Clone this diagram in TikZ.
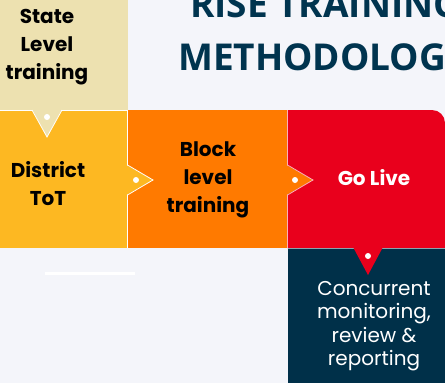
\documentclass[tikz,border=0pt]{standalone}
\usepackage{fontspec}
\setmainfont{Poppins}
\newfontfamily\titlefont{Open Sans}
\definecolor{bgc}{HTML}{F4F5FA}
\definecolor{beigec}{HTML}{EDE1B0}
\definecolor{yellowc}{HTML}{FDB822}
\definecolor{orangec}{HTML}{FF7A00}
\definecolor{redc}{HTML}{E9001C}
\definecolor{darkc}{HTML}{003049}
\definecolor{titlec}{HTML}{00344F}
\begin{document}
\begin{tikzpicture}[x=1pt,y=-1pt,
  lbl/.style={align=center,font=\fontsize{20}{28}\selectfont\bfseries,text=black,inner sep=0pt},
  lbllight/.style={align=center,font=\fontsize{20}{23.5}\selectfont,text=white,inner sep=0pt},
  ttl/.style={anchor=base west,font=\titlefont\bfseries\fontsize{37}{44}\selectfont,text=titlec,inner sep=0pt},
  sep/.style={draw=white,line width=0.8pt},
  dotw/.style={fill=white},
  tri/.style={line width=0.8pt,line join=miter}]
\useasboundingbox (0,0) rectangle (445,383);
\clip (0,0) rectangle (445,383);
\fill[bgc] (0,0) rectangle (445,383);
% boxes
\fill[beigec] (0,0) rectangle (127.5,110);
\fill[yellowc] (0,110) rectangle (127.5,248);
\fill[orangec] (127.5,110) rectangle (287.5,248);
\fill[redc] (287.5,248) -- (287.5,110) -- (432,110) arc[start angle=90,end angle=0,radius=13pt] -- (445,248) -- cycle;
\fill[darkc] (287.5,248) rectangle (445,383);
% separators
\draw[sep] (0,110) -- (127.5,110);
\draw[sep] (127.5,110) -- (127.5,248);
\draw[draw=white!70!redc,line width=0.8pt] (287.5,110) -- (287.5,248);
\draw[draw=white!55!darkc,line width=0.8pt] (287.5,248) -- (445,248);
% pointer triangles
\fill[beigec] (32,109) -- (62,109) -- (47,137) -- cycle;
\draw[tri,white] (32,110) -- (47,137) -- (62,110);
\fill[yellowc] (126.5,165) -- (153,180) -- (126.5,195) -- cycle;
\draw[tri,white] (127.5,165) -- (153,180) -- (127.5,195);
\fill[orangec] (286.5,165) -- (313,180) -- (286.5,195) -- cycle;
\draw[tri,white!70!redc] (287.5,165) -- (313,180) -- (287.5,195);
\fill[redc] (353,247) -- (383,247) -- (368,275) -- cycle;
% dots
\fill[dotw] (47,117) circle[radius=3pt];
\fill[dotw] (136,180) circle[radius=3pt];
\fill[dotw] (295,180) circle[radius=3pt];
\fill[dotw] (368,256) circle[radius=3pt];
% white bar
\draw[white,line width=3pt] (45,273) -- (135,273);
% labels
\node[lbl] (state) at (47,47.5) {State\\Level\\training};
\node[lbl] (district) at (48,183.5) {District\\ToT};
\node[lbl] (block) at (208,180) {Block\\level\\training};
\node[lbl,text=white] (golive) at (374,177.5) {Go Live};
\node[lbllight] (monitor) at (374,326) {Concurrent\\monitoring,\\review \&\\reporting};
% title
\node[ttl] (title1) at (190,17) {RISE TRAINING};
\node[ttl] (title2) at (178,70) {METHODOLOGY};
\end{tikzpicture}
\end{document}
